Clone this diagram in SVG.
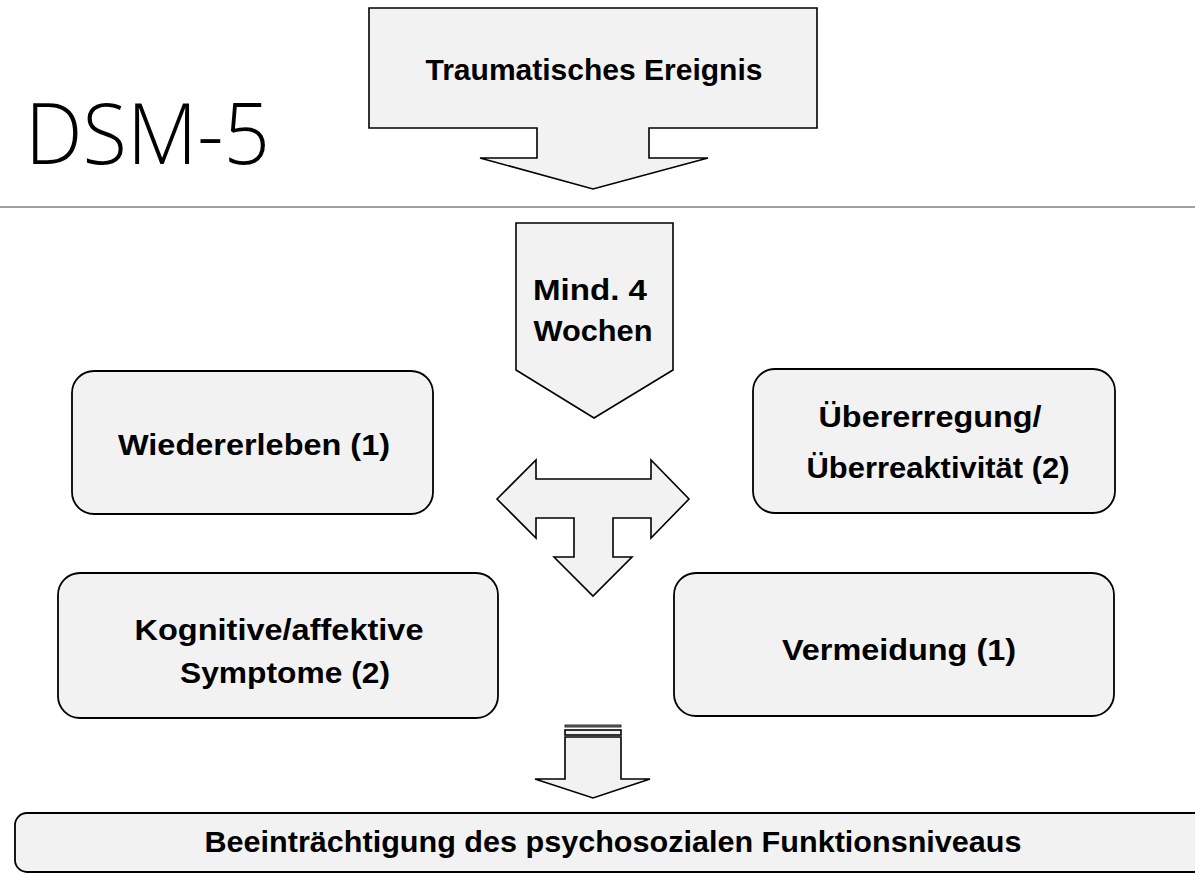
<svg xmlns="http://www.w3.org/2000/svg" width="1195" height="873" viewBox="0 0 1195 873">
<style>
.s{fill:#f2f2f2;stroke:#000;stroke-width:1.6;stroke-linejoin:miter}
.b{fill:#f2f2f2;stroke:#000;stroke-width:1.8}
.t{font-family:"Liberation Sans",Arial,sans-serif;font-weight:bold;font-size:29px;fill:#000;text-anchor:middle}
</style>
<rect width="1195" height="873" fill="#fff"/>
<text x="25" y="164" font-family="'Open Sans','Liberation Sans',Arial,sans-serif" font-weight="300" font-size="84" textLength="245" lengthAdjust="spacingAndGlyphs">DSM-5</text>
<line x1="0" y1="207" x2="1195" y2="207" stroke="#808080" stroke-width="1.5"/>
<g id="trauma">
<polygon class="s" points="369,8 817,8 817,128 649,128 649,158 708,158 593,189 480,158 537,158 537,128 369,128"/>
<text class="t" x="594" y="80" textLength="337" lengthAdjust="spacingAndGlyphs">Traumatisches Ereignis</text>
</g>
<g id="wochen">
<polygon class="s" points="516,223 673,223 673,370 594,418 516,370"/>
<text class="t" x="590" y="300" textLength="114" lengthAdjust="spacingAndGlyphs">Mind. 4</text>
<text class="t" x="593" y="341" textLength="119" lengthAdjust="spacingAndGlyphs">Wochen</text>
</g>
<g id="wiedererleben">
<rect class="b" x="72" y="371" width="361" height="143" rx="22"/>
<text class="t" x="254" y="455" textLength="272" lengthAdjust="spacingAndGlyphs">Wiedererleben (1)</text>
</g>
<g id="uebererregung">
<rect class="b" x="753" y="369" width="362" height="144" rx="22"/>
<text class="t" x="930" y="427" textLength="223" lengthAdjust="spacingAndGlyphs">Übererregung/</text>
<text class="t" x="938" y="478" textLength="263" lengthAdjust="spacingAndGlyphs">Überreaktivität (2)</text>
</g>
<g id="kognitive">
<rect class="b" x="58" y="573" width="440" height="145" rx="22"/>
<text class="t" x="279" y="640" textLength="289" lengthAdjust="spacingAndGlyphs">Kognitive/affektive</text>
<text class="t" x="285" y="683" textLength="210" lengthAdjust="spacingAndGlyphs">Symptome (2)</text>
</g>
<g id="vermeidung">
<rect class="b" x="674" y="573" width="440" height="143" rx="22"/>
<text class="t" x="899" y="660" textLength="234" lengthAdjust="spacingAndGlyphs">Vermeidung (1)</text>
</g>
<g id="connectors">
<polygon class="s" points="497,499 536,460 536,479 651,479 651,460 689,499 651,538 651,518 613,518 613,557 632,557 593,596 554,557 574,557 574,518 536,518 536,538"/>
<rect x="565" y="725" width="56" height="2" fill="#808080" stroke="#000" stroke-width="0.8"/>
<rect class="s" x="565" y="730" width="56" height="5" stroke-width="1"/>
<polygon class="s" points="565,737 621,737 621,779 650,779 593,798 535,779 565,779"/>
</g>
<g id="beeintraechtigung">
<rect class="b" x="15" y="813" width="1200" height="59" rx="12"/>
<text class="t" x="613" y="852" textLength="817" lengthAdjust="spacingAndGlyphs">Beeinträchtigung des psychosozialen Funktionsniveaus</text>
</g>
</svg>
